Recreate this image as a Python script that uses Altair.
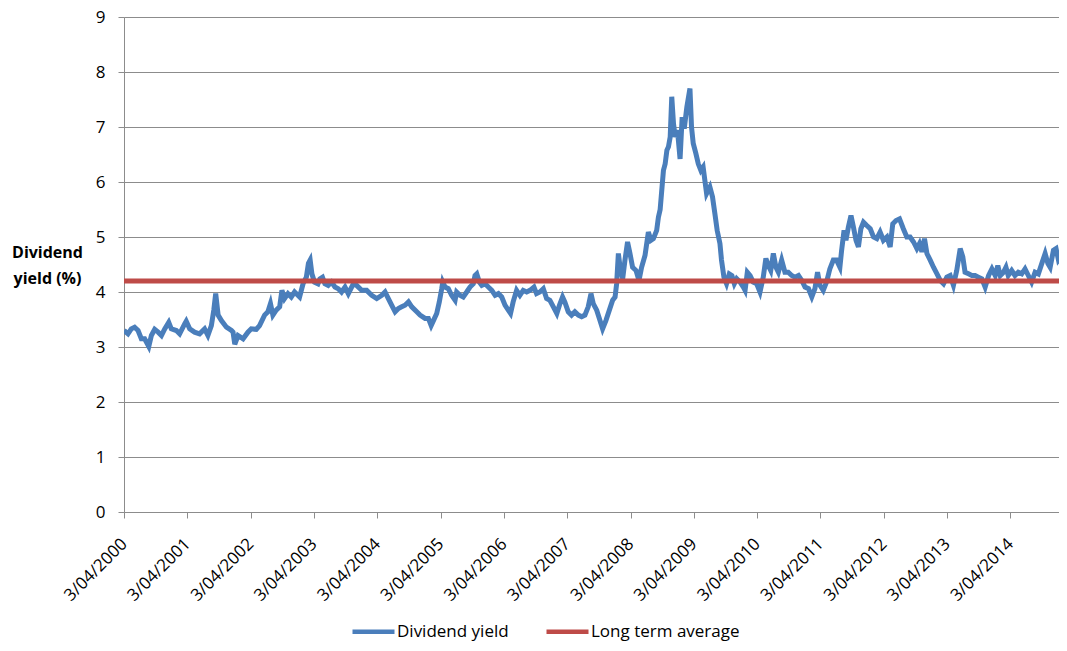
import altair as alt
import pandas as pd

# ---- data ----
dy_dates = [
    "2000-04-03", "2000-04-26", "2000-05-15", "2000-06-03", "2000-06-23", "2000-07-12",
    "2000-07-31", "2000-08-24", "2000-09-08", "2000-09-27", "2000-10-17", "2000-11-05",
    "2000-11-24", "2000-12-17", "2001-01-01", "2001-01-30", "2001-02-18", "2001-03-19",
    "2001-03-28", "2001-04-17", "2001-05-15", "2001-06-13", "2001-07-12", "2001-07-31",
    "2001-08-20", "2001-09-03", "2001-09-14", "2001-09-28", "2001-10-17", "2001-11-15",
    "2001-12-14", "2001-12-23", "2002-01-02", "2002-01-21", "2002-02-19", "2002-03-19",
    "2002-04-07", "2002-05-06", "2002-05-25", "2002-06-23", "2002-07-12", "2002-07-27",
    "2002-08-10", "2002-08-29", "2002-09-18", "2002-10-01", "2002-10-16", "2002-11-05",
    "2002-11-24", "2002-12-13", "2003-01-11", "2003-01-31", "2003-02-19", "2003-03-03",
    "2003-03-13", "2003-03-23", "2003-04-07", "2003-04-27", "2003-05-08", "2003-05-23",
    "2003-06-06", "2003-06-25", "2003-07-14", "2003-08-03", "2003-08-22", "2003-09-10",
    "2003-09-30", "2003-10-19", "2003-11-17", "2003-12-06", "2004-01-04", "2004-02-02",
    "2004-03-02", "2004-03-31", "2004-04-29", "2004-05-18", "2004-06-06", "2004-06-25",
    "2004-07-15", "2004-08-03", "2004-08-22", "2004-09-10", "2004-09-30", "2004-10-19",
    "2004-11-17", "2004-12-06", "2005-01-04", "2005-01-23", "2005-02-08", "2005-02-21",
    "2005-03-12", "2005-03-27", "2005-04-10", "2005-04-16", "2005-04-29", "2005-05-18",
    "2005-06-06", "2005-06-26", "2005-07-05", "2005-07-24", "2005-08-12", "2005-09-01",
    "2005-09-20", "2005-10-09", "2005-10-19", "2005-10-29", "2005-11-13", "2005-11-27",
    "2005-12-16", "2006-01-04", "2006-01-24", "2006-02-12", "2006-03-03", "2006-03-22",
    "2006-04-10", "2006-04-29", "2006-05-12", "2006-05-27", "2006-06-16", "2006-07-05",
    "2006-07-24", "2006-08-13", "2006-09-01", "2006-09-24", "2006-10-09", "2006-10-28",
    "2006-11-17", "2006-12-06", "2006-12-25", "2007-01-14", "2007-02-03", "2007-02-18",
    "2007-03-08", "2007-03-21", "2007-04-10", "2007-04-29", "2007-05-18", "2007-06-07",
    "2007-06-26", "2007-07-15", "2007-08-03", "2007-08-19", "2007-09-01", "2007-09-21",
    "2007-10-10", "2007-10-25", "2007-11-13", "2007-12-03", "2007-12-22", "2008-01-05",
    "2008-01-14", "2008-01-24", "2008-02-03", "2008-02-18", "2008-03-02", "2008-03-17",
    "2008-03-31", "2008-04-15", "2008-05-05", "2008-05-22", "2008-06-06", "2008-06-26",
    "2008-07-15", "2008-07-30", "2008-08-13", "2008-09-01", "2008-09-11", "2008-09-21",
    "2008-10-10", "2008-10-20", "2008-10-30", "2008-11-08", "2008-11-18", "2008-11-27",
    "2008-12-07", "2008-12-17", "2008-12-30", "2009-01-14", "2009-01-26", "2009-02-07",
    "2009-02-22", "2009-03-04", "2009-03-12", "2009-03-21", "2009-03-31", "2009-04-15",
    "2009-04-29", "2009-05-14", "2009-05-27", "2009-06-06", "2009-06-16", "2009-07-05",
    "2009-07-20", "2009-08-03", "2009-08-16", "2009-09-01", "2009-09-10", "2009-09-24",
    "2009-10-09", "2009-10-25", "2009-11-09", "2009-11-23", "2009-12-07", "2009-12-26",
    "2010-01-14", "2010-01-24", "2010-02-06", "2010-02-22", "2010-03-12", "2010-04-01",
    "2010-04-20", "2010-05-09", "2010-05-24", "2010-06-07", "2010-06-21", "2010-07-06",
    "2010-07-21", "2010-08-04", "2010-08-23", "2010-09-11", "2010-09-30", "2010-10-20",
    "2010-11-08", "2010-11-28", "2010-12-17", "2011-01-05", "2011-01-25", "2011-02-13",
    "2011-03-03", "2011-03-18", "2011-04-01", "2011-04-20", "2011-05-09", "2011-05-28",
    "2011-06-17", "2011-07-06", "2011-07-25", "2011-08-04", "2011-08-18", "2011-08-29",
    "2011-09-12", "2011-09-27", "2011-10-11", "2011-10-26", "2011-11-09", "2011-11-23",
    "2011-12-08", "2011-12-27", "2012-01-16", "2012-02-04", "2012-02-23", "2012-03-13",
    "2012-04-01", "2012-04-21", "2012-05-10", "2012-05-25", "2012-06-13", "2012-07-03",
    "2012-07-25", "2012-08-14", "2012-09-02", "2012-09-22", "2012-10-11", "2012-10-26",
    "2012-11-09", "2012-11-24", "2012-12-08", "2012-12-27", "2013-01-15", "2013-02-04",
    "2013-02-23", "2013-03-14", "2013-04-02", "2013-04-21", "2013-05-10", "2013-05-29",
    "2013-06-18", "2013-07-03", "2013-07-16", "2013-08-05", "2013-08-24", "2013-09-12",
    "2013-10-01", "2013-10-21", "2013-11-09", "2013-11-29", "2013-12-18", "2014-01-06",
    "2014-01-21", "2014-02-04", "2014-02-23", "2014-03-09", "2014-03-22", "2014-04-11",
    "2014-04-30", "2014-05-19", "2014-06-08", "2014-06-27", "2014-07-16", "2014-08-04",
    "2014-08-24", "2014-09-12", "2014-10-02", "2014-10-21", "2014-11-06", "2014-11-19",
    "2014-12-08", "2014-12-23", "2015-01-06", "2015-01-21", "2015-02-04", "2015-02-17",
]

dy_values = [
    3.30, 3.24, 3.33, 3.36, 3.30, 3.15,
    3.15, 3.01, 3.21, 3.32, 3.27, 3.21,
    3.33, 3.45, 3.33, 3.30, 3.24, 3.42,
    3.47, 3.33, 3.27, 3.24, 3.33, 3.21,
    3.39, 3.67, 3.97, 3.58, 3.48, 3.36,
    3.30, 3.27, 3.05, 3.21, 3.15, 3.27,
    3.33, 3.32, 3.39, 3.58, 3.64, 3.79,
    3.58, 3.67, 3.73, 4.03, 3.88, 3.97,
    3.91, 4.00, 3.91, 4.15, 4.27, 4.52,
    4.58, 4.33, 4.18, 4.15, 4.24, 4.27,
    4.15, 4.12, 4.18, 4.09, 4.06, 4.00,
    4.09, 3.97, 4.15, 4.12, 4.03, 4.03,
    3.94, 3.88, 3.94, 4.00, 3.88, 3.76,
    3.64, 3.70, 3.73, 3.76, 3.82, 3.73,
    3.64, 3.58, 3.52, 3.52, 3.39, 3.48,
    3.61, 3.82, 4.06, 4.18, 4.09, 4.06,
    3.94, 3.85, 4.00, 3.94, 3.91, 4.00,
    4.09, 4.15, 4.30, 4.33, 4.18, 4.12,
    4.15, 4.09, 4.03, 3.94, 3.97, 3.91,
    3.76, 3.67, 3.61, 3.82, 4.03, 3.94,
    4.03, 4.00, 4.03, 4.09, 3.97, 4.00,
    4.06, 3.88, 3.85, 3.73, 3.61, 3.76,
    3.91, 3.82, 3.64, 3.58, 3.64, 3.58,
    3.55, 3.58, 3.73, 3.97, 3.79, 3.67,
    3.48, 3.33, 3.48, 3.67, 3.85, 3.91,
    4.15, 4.70, 4.45, 4.24, 4.58, 4.91,
    4.70, 4.45, 4.39, 4.21, 4.45, 4.67,
    5.09, 4.94, 4.97, 5.12, 5.36, 5.50,
    6.21, 6.33, 6.58, 6.64, 6.82, 7.55,
    7.06, 6.82, 6.94, 6.42, 7.18, 6.97,
    7.36, 7.55, 7.70, 7.00, 6.70, 6.52,
    6.33, 6.21, 6.27, 6.03, 5.79, 5.91,
    5.73, 5.42, 5.12, 4.88, 4.58, 4.27,
    4.15, 4.33, 4.30, 4.15, 4.24, 4.18,
    4.09, 4.03, 4.36, 4.30, 4.18, 4.15,
    4.00, 4.27, 4.61, 4.48, 4.39, 4.70,
    4.45, 4.36, 4.58, 4.36, 4.36, 4.30,
    4.27, 4.30, 4.21, 4.09, 4.06, 3.91,
    4.06, 4.36, 4.12, 4.03, 4.18, 4.42,
    4.58, 4.58, 4.45, 4.76, 5.12, 4.94,
    5.18, 5.39, 5.18, 4.94, 4.82, 5.15,
    5.27, 5.21, 5.15, 5.00, 4.97, 5.09,
    4.94, 5.00, 4.82, 5.24, 5.30, 5.33,
    5.15, 5.00, 5.00, 4.91, 4.79, 4.88,
    4.73, 4.97, 4.70, 4.58, 4.45, 4.33,
    4.21, 4.15, 4.27, 4.30, 4.12, 4.39,
    4.79, 4.64, 4.36, 4.33, 4.30, 4.30,
    4.27, 4.24, 4.09, 4.30, 4.42, 4.30,
    4.48, 4.30, 4.36, 4.45, 4.30, 4.39,
    4.30, 4.36, 4.33, 4.42, 4.30, 4.18,
    4.36, 4.33, 4.52, 4.70, 4.52, 4.45,
    4.76, 4.79, 4.58, 4.64, 4.45, 4.27,
]

avg_dates = ["2000-04-03", "2015-02-17"]
avg_values = [4.2, 4.2]

series_names = ["Dividend yield", "Long term average"]
series_colors = ["#4A7EBB", "#BE4B48"]

tick_years = list(range(2000, 2015))

# ---- table ----
df = pd.concat([
    pd.DataFrame({"date": dy_dates, "value": dy_values, "series": series_names[0]}),
    pd.DataFrame({"date": avg_dates, "value": avg_values, "series": series_names[1]}),
], ignore_index=True)

FONT = "Open Sans"
GRID = "#8C8C8C"

x_axis = alt.Axis(
    values=[alt.DateTime(year=y, month=4, date=3, utc=True) for y in tick_years],
    labelExpr="utcdate(datum.value) + '/' + utcFormat(datum.value, '%m/%Y')",
    labelAngle=315,
    labelAlign="right",
    labelBaseline="middle",
    labelPadding=23,
    labelOffset=0,
    labelOverlap=False,
    labelFont=FONT,
    labelFontSize=17,
    labelColor="#000000",
    grid=False,
    tickSize=6,
    tickColor=GRID,
    domainColor=GRID,
    title=None,
)

y_axis = alt.Axis(
    values=list(range(10)),
    grid=True,
    gridColor=GRID,
    gridWidth=1,
    tickSize=6,
    tickColor=GRID,
    domainColor=GRID,
    labelFont=FONT,
    labelFontSize=17,
    labelColor="#000000",
    labelPadding=13,
    title=["Dividend", "yield (%)"],
    titleAngle=0,
    titleAlign="center",
    titleBaseline="top",
    titleX=-77,
    titleY=227,
    titleFont=FONT,
    titleFontSize=16,
    titleFontWeight="bold",
    titleColor="#000000",
    titleLineHeight=26,
)

legend = alt.Legend(
    orient="none",
    legendX=226,
    legendY=591,
    padding=0,
    direction="horizontal",
    title=None,
    symbolType="stroke",
    symbolStrokeWidth=4.5,
    symbolSize=1764,
    labelFont=FONT,
    labelFontSize=17,
    labelColor="#000000",
    labelOffset=0,
    columnPadding=28,
    labelLimit=300,
)

chart = alt.Chart(df).mark_line(strokeWidth=5, clip=True).encode(
    x=alt.X(
        "date:T",
        axis=x_axis,
        scale=alt.Scale(
            type="utc",
            domain=[
                alt.DateTime(year=2000, month=4, date=3, utc=True),
                alt.DateTime(year=2015, month=1, date=9, utc=True),
            ],
        ),
    ),
    y=alt.Y("value:Q", axis=y_axis, scale=alt.Scale(domain=[0, 9], nice=False)),
    color=alt.Color(
        "series:N",
        scale=alt.Scale(domain=series_names, range=series_colors),
        legend=legend,
    ),
).properties(
    width=935,
    height=495,
    padding={"left": 116, "top": 9, "right": 0, "bottom": 131},
    autosize=alt.AutoSizeParams(type="none"),
).configure_view(
    strokeWidth=0,
).configure(
    background="white",
)

chart.save("out.html", embed_options={"renderer": "svg", "actions": False})
